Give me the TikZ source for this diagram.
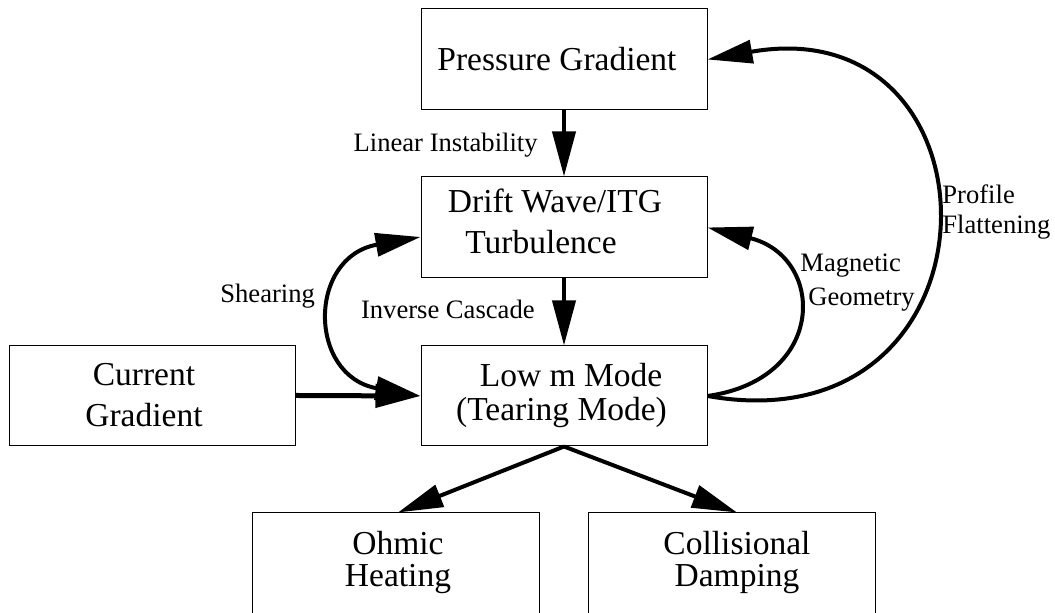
\documentclass[tikz,border=0pt]{standalone}
\usepackage{fontspec}
\setmainfont{Liberation Serif}
\usepackage{tikz}
\usetikzlibrary{arrows.meta}
\newcommand{\boxfont}{\fontsize{16.75}{20.5}\selectfont}
\newcommand{\lblfont}{\fontsize{13.3}{15}\selectfont}
\tikzset{
    box/.style={draw, line width=0.5pt, minimum width=143pt, minimum height=50.5pt, inner sep=0pt, align=center, font=\boxfont},
    openbox/.style={box, draw=none, minimum height=50pt},
    lbl/.style={inner sep=0pt, font=\lblfont},
    flow/.style={-{Triangle[length=22.5pt,width=11.5pt]}, line width=2pt},
    twoway/.style={{Triangle[length=22.5pt,width=11.5pt]}-{Triangle[length=22.5pt,width=11.5pt]}, line width=2pt},
}

\begin{document}
\begin{tikzpicture}[x=0.5pt, y=0.5pt]
            \useasboundingbox (0,0) rectangle (1055,613);
            \node[box] (pressure) at (564,553.5) {Pressure Gradient\hspace*{7pt}};
            \node[box, text depth=6pt] (drift) at (564,385.5) {Drift Wave/ITG\hspace*{9pt}\\Turbulence\hspace*{23pt}};
            \node[box, minimum height=50pt] (low) at (564,217) {\hspace*{7pt}Low m Mode\\[-3.5pt](Tearing Mode)\hspace*{2.5pt}};
            \node[box, minimum height=50pt] (current) at (152,217.5) {Current\hspace*{8pt}\\Gradient\hspace*{8pt}};
            % bottom boxes run off the page
            \node[openbox] (ohmic) at (395.5,50) {\hspace*{2.5pt}Ohmic\\[-4.5pt]\hspace*{2.5pt}Heating};
            \node[openbox] (collis) at (731.5,50) {\hspace*{5.5pt}Collisional\\[-4.5pt]\hspace*{5.5pt}Damping};
            \draw[line width=0.5pt] (ohmic.south west) |- (ohmic.north east) -- (ohmic.south east);
            \draw[line width=0.5pt] (collis.south west) |- (collis.north east) -- (collis.south east);
            \draw[flow] (pressure) -- (drift);
            \draw[flow] (drift) -- (low);
            \draw[flow, line width=2.5pt] (current.east) -- (low.west);
            \draw[twoway] ([yshift=-4.75pt]drift.west) to[out=190, in=170, looseness=1.85] (low.west);
            \draw[flow] (low.east) to[out=8, in=-14, looseness=1.85] (drift.east);
            \draw[flow] (low.east) to[out=-10, in=10, looseness=2.35] (pressure.east);
            \draw[flow] (low.south) -- ([xshift=1.25pt]ohmic.north);
            \draw[flow] (low.south) -- ([xshift=2.75pt]collis.north);
            \node[lbl, anchor=base east] (linear) at (538,461) {Linear Instability};
            \node[lbl, anchor=base east] (inverse) at (535,294) {Inverse Cascade};
            \node[lbl, anchor=base west] (shearing) at (220,310) {Shearing};
            \node[lbl, align=left, anchor=west] (magnetic) at (800,330) {Magnetic\\[2pt]\hspace*{4pt}Geometry};
            \node[lbl, align=left, anchor=west] (profile) at (942,401) {Profile\\Flattening};
        \end{tikzpicture}
\end{document}
